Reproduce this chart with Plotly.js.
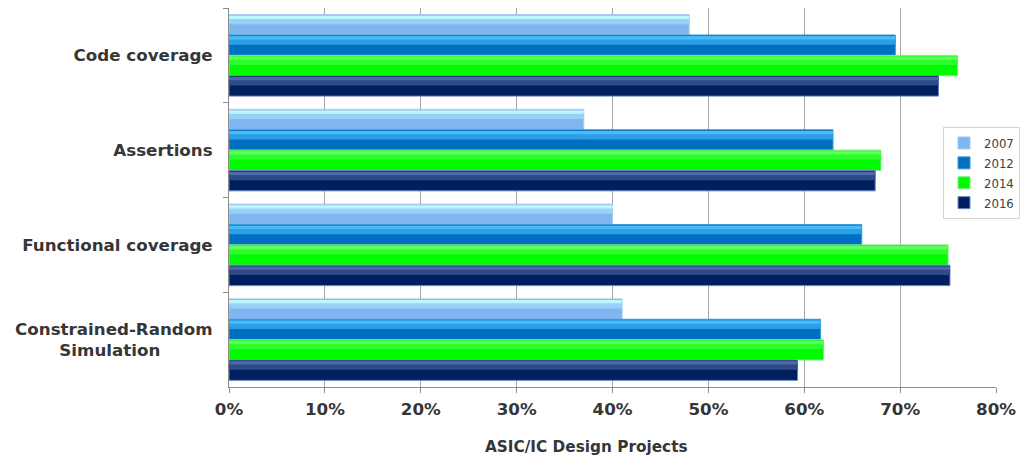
<!DOCTYPE html>
<html>
<head>
<meta charset="utf-8">
<script src="https://cdn.plot.ly/plotly-3.0.1.min.js"></script>
<style>
  html, body { margin: 0; padding: 0; background: #ffffff; }
  #chart { width: 1021px; height: 460px; }
</style>
</head>
<body>
<div id="chart"></div>
<script>
// Verification techniques adopted in ASIC/IC design projects, by survey year
const categories = [
  'Code coverage',
  'Assertions',
  'Functional coverage',
  'Constrained-Random<br>Simulation\u00a0\u00a0\u00a0\u00a0\u00a0\u00a0\u00a0\u00a0\u00a0'
];
const years = ['2007', '2012', '2014', '2016'];
const share2007 = [0.48, 0.37, 0.40, 0.41];
const share2012 = [0.695, 0.63, 0.66, 0.617];
const share2014 = [0.76, 0.68, 0.75, 0.62];
const share2016 = [0.74, 0.674, 0.752, 0.593];
const xTicks = [0, 0.1, 0.2, 0.3, 0.4, 0.5, 0.6, 0.7, 0.8];
const xTitle = 'ASIC/IC Design Projects';

const seriesValues = [share2007, share2012, share2014, share2016];

// body colour, upper bevel colour, top sheen colour, edge colour per year
const palette = [
  { body: '#80b6f0', bevel: '#98d2f6', sheen: '#bdf6ff', edge: '#a8c8ec' },
  { body: '#006fbf', bevel: '#2c9ee6', sheen: '#48bcf8', edge: '#3d9ad8' },
  { body: '#00fa00', bevel: '#2cfb2c', sheen: '#5cff5c', edge: '#7ef07e' },
  { body: '#001f5f', bevel: '#2f4a88', sheen: '#4d69a8', edge: '#6a86bc' }
];

const slot = 0.215;          // thickness of one bar in category units
const groupStart = -0.43;    // first bar starts here relative to category centre

const traces = [];
// main bars (these carry the legend)
seriesValues.forEach((vals, i) => {
  traces.push({
    type: 'bar',
    orientation: 'h',
    name: years[i],
    y: categories,
    x: vals,
    offset: groupStart + i * slot,
    width: slot,
    marker: { color: palette[i].body, line: { color: palette[i].edge, width: 1 } },
    hovertemplate: '%{x:.0%}<extra>' + years[i] + '</extra>'
  });
});
// bevel highlight on the upper part of every bar
seriesValues.forEach((vals, i) => {
  traces.push({
    type: 'bar',
    orientation: 'h',
    showlegend: false,
    hoverinfo: 'skip',
    y: categories,
    x: vals,
    offset: groupStart + i * slot + 0.012,
    width: slot * 0.42,
    marker: { color: palette[i].bevel, line: { width: 0 } }
  });
});
// thin bright sheen along the top edge
seriesValues.forEach((vals, i) => {
  traces.push({
    type: 'bar',
    orientation: 'h',
    showlegend: false,
    hoverinfo: 'skip',
    y: categories,
    x: vals,
    offset: groupStart + i * slot + 0.012,
    width: slot * 0.16,
    marker: { color: palette[i].sheen, line: { width: 0 } }
  });
});

const labelFont = { family: 'DejaVu Sans, Verdana, sans-serif', size: 16.7, color: '#363636', weight: 'bold' };

const layout = {
  width: 1021,
  height: 460,
  margin: { l: 229, r: 25, t: 8, b: 73, autoexpand: false },
  paper_bgcolor: '#ffffff',
  plot_bgcolor: '#ffffff',
  barmode: 'overlay',
  showlegend: true,
  legend: {
    x: 1.0313, xanchor: 'right',
    y: 0.686, yanchor: 'top',
    bgcolor: '#ffffff',
    bordercolor: '#d4d4d4',
    borderwidth: 1,
    font: { family: 'DejaVu Sans Condensed, sans-serif', size: 13, color: '#404040' },
    itemwidth: 30,
    tracegroupgap: 0
  },
  xaxis: {
    range: [0, 0.8],
    tickvals: xTicks,
    tickformat: '.0%',
    showgrid: true,
    gridcolor: '#a6a6a6',
    gridwidth: 1,
    zeroline: false,
    showline: true,
    linecolor: '#8c8c8c',
    linewidth: 1,
    ticks: 'outside',
    ticklen: 5,
    tickcolor: '#8c8c8c',
    tickfont: labelFont,
    ticklabelstandoff: 2,
    fixedrange: true
  },
  yaxis: {
    type: 'category',
    autorange: false,
    range: [3.5, -0.5],
    showgrid: false,
    zeroline: false,
    showline: true,
    linecolor: '#8c8c8c',
    linewidth: 1,
    ticks: 'outside',
    tickson: 'boundaries',
    ticklen: 5,
    tickcolor: '#8c8c8c',
    tickfont: labelFont,
    ticklabelstandoff: 12,
    fixedrange: true
  },
  annotations: [{
    text: xTitle,
    xref: 'paper', yref: 'paper',
    x: 0.4655, y: -0.158,
    xanchor: 'center', yanchor: 'middle',
    showarrow: false,
    font: { family: 'DejaVu Sans, Verdana, sans-serif', size: 15.3, color: '#363636', weight: 'bold' }
  }]
};

Plotly.newPlot('chart', traces, layout, { displayModeBar: false, staticPlot: true });
</script>
</body>
</html>
